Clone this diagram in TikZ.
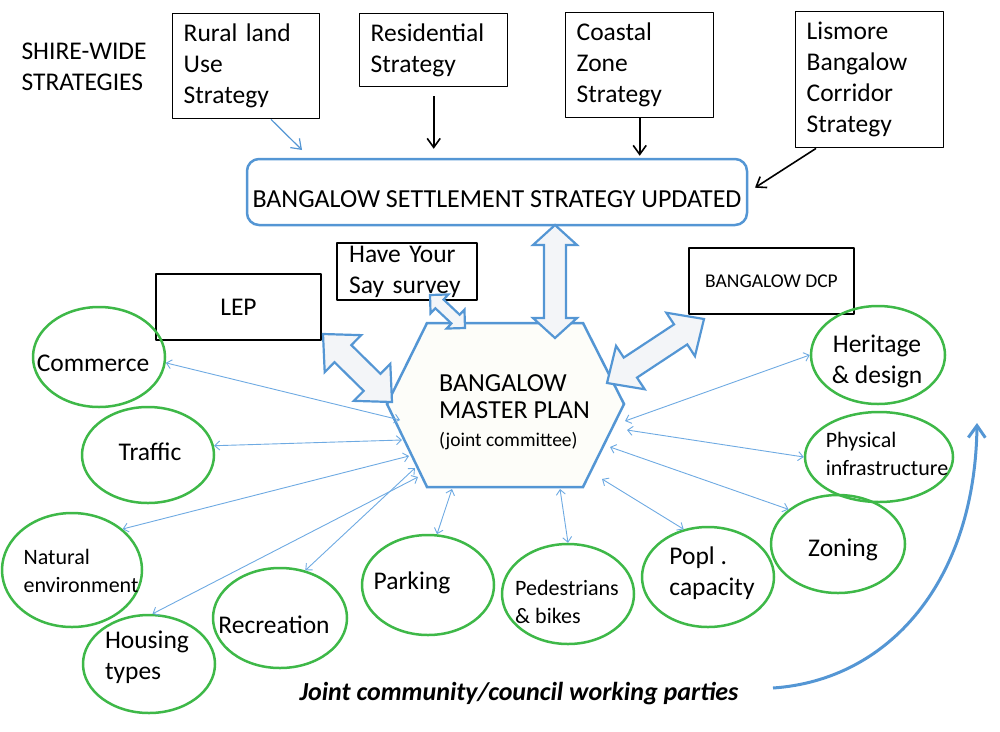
\documentclass[tikz,border=0pt]{standalone}
\usepackage{fontspec}
\setmainfont{Carlito}
\usetikzlibrary{arrows.meta,calc,shapes.geometric}

\definecolor{planblue}{RGB}{84,150,212}
\definecolor{linkblue}{RGB}{110,170,226}
\definecolor{partygreen}{RGB}{62,184,72}
\definecolor{hexfill}{RGB}{253,253,249}
\definecolor{arrowfill}{RGB}{243,245,248}

% fat two-headed arrow: tips #1 and #2, half shaft #3, half head #4, head length #5
\newcommand\fatarrow[5]{%
  \coordinate (fa1) at ($(#1)!#5!(#2)$);
  \coordinate (fa2) at ($(#2)!#5!(#1)$);
  \filldraw[fat] (#1) -- ($(fa1)!#4!90:(#2)$) -- ($(fa1)!#3!90:(#2)$)
    -- ($(fa2)!#3!-90:(#1)$) -- ($(fa2)!#4!-90:(#1)$) -- (#2)
    -- ($(fa2)!#4!90:(#1)$) -- ($(fa2)!#3!90:(#1)$)
    -- ($(fa1)!#3!-90:(#2)$) -- ($(fa1)!#4!-90:(#2)$) -- cycle;}

\begin{document}
\begin{tikzpicture}[x=1pt, y=-1pt, line join=round,
    >={Straight Barb[length=5pt, width=9pt]},
    big/.style={font=\fontsize{25.5}{31}\selectfont},
    small/.style={font=\fontsize{22}{28}\selectfont},
    tiny/.style={font=\fontsize{19.5}{24}\selectfont},
    stratbox/.style={draw, line width=1.4pt, big, align=left, inner xsep=11pt, anchor=north west},
    planbox/.style={draw, line width=2.4pt, inner sep=0pt},
    party/.style={ellipse, draw=partygreen, line width=2.5pt, inner sep=0pt},
    link/.style={<->, linkblue, line width=0.9pt},
    feed/.style={-{Straight Barb[length=9pt, width=13pt]}, line width=1.6pt},
    fat/.style={draw=planblue, fill=arrowfill, line width=2.2pt, line join=miter}]

    \useasboundingbox (0,0) rectangle (1000,731);

    % shire-wide strategies
    \node[big, align=left, anchor=west] (shire) at (18,67) {SHIRE-WIDE\\STRATEGIES};
    \node[stratbox, text width=125pt, minimum height=105pt] (rural) at (172,13) {Rural land\\Use\\Strategy};
    \node[stratbox, text width=126pt, minimum height=73pt] (resid) at (359,13) {Residential\\Strategy};
    \node[stratbox, text width=126pt, minimum height=105pt] (coastal) at (565,12) {Coastal\\Zone\\Strategy};
    \node[stratbox, text width=126pt, minimum height=136pt] (lismore) at (795,11) {Lismore\\Bangalow\\Corridor\\Strategy};

    \node[font=\fontsize{26}{31}\selectfont, draw=planblue, line width=2.5pt, rounded corners=12pt,
          text height=31pt, text depth=0pt, inner ysep=0pt,
          minimum width=500pt, minimum height=66pt] (settle) at (497,192)
          {BANGALOW SETTLEMENT STRATEGY UPDATED};

    \coordinate (ruraltip) at (302,150);
    \draw[feed, planblue, line width=1.2pt] (rural.-65) -- (ruraltip);
    \draw[feed, shorten <=9pt, shorten >=9pt] (resid.south) -- (resid.south |- settle.north);
    \draw[feed, shorten >=2pt] (coastal.south) -- (coastal.south |- settle.north);
    \draw[feed, shorten >=8pt] (lismore.-128) -- (settle.east);

    % master plan hexagon
    \coordinate (hexL) at (387,404);
    \coordinate (hexTL) at (427,323);
    \coordinate (hexTR) at (583,323);
    \coordinate (hexR) at (624,404);
    \coordinate (hexBR) at (583,487);
    \coordinate (hexBL) at (427,487);
    \filldraw[draw=planblue, fill=hexfill, line width=2.5pt, line join=miter]
        (hexL) -- (hexTL) -- (hexTR) -- (hexR) -- (hexBR) -- (hexBL) -- cycle;
    \node[font=\fontsize{26}{27}\selectfont, align=left, anchor=west, inner sep=0pt] (master) at (439,412)
        {BANGALOW\\MASTER PLAN\\[1pt]{\fontsize{19.5}{24}\selectfont (joint committee)}};

    % other plans
    \node[planbox, big, minimum width=165pt, minimum height=66pt] (lep) at (238.5,307) {LEP};
    \node[planbox, big, align=left, anchor=north west, inner xsep=12pt,
          text width=116pt, minimum height=57pt] (survey) at (336,242) {Have Your\\Say survey};
    \node[planbox, tiny, minimum width=165pt, minimum height=66pt] (dcp) at (771.5,281) {BANGALOW DCP};

    % fat arrows
    \coordinate (upA) at (555,225);
    \coordinate (upB) at (555,338);
    \fatarrow{upA}{upB}{11pt}{22pt}{20pt}
    \coordinate (lepA) at (323,334);
    \coordinate (lepB) at (392,402);
    \fatarrow{lepA}{lepB}{12pt}{26pt}{28pt}
    \coordinate (hysA) at (430,295);
    \coordinate (hysB) at (465,328);
    \fatarrow{hysA}{hysB}{6pt}{13pt}{13pt}
    \coordinate (dcpA) at (607,383);
    \coordinate (dcpB) at (704,319);
    \fatarrow{dcpA}{dcpB}{12pt}{26pt}{28pt}

    % working parties
    \node[party, minimum width=132pt, minimum height=100pt,
          label={[big, xshift=-6pt, yshift=-6pt]center:Commerce}] (commerce) at (99,357) {};
    \node[party, minimum width=132pt, minimum height=96pt,
          label={[big, xshift=2pt, yshift=3pt]center:Traffic}] (traffic) at (148,455) {};
    \node[party, minimum width=140pt, minimum height=114pt,
          label={[small, align=left, xshift=9pt, yshift=-1pt]center:Natural\\environment}] (natural) at (72,570) {};
    \node[party, minimum width=132pt, minimum height=98pt,
          label={[big, align=left, xshift=-2pt, yshift=7pt]center:Housing\\types}] (housing) at (149,664) {};
    \node[party, minimum width=134pt, minimum height=100pt,
          label={[big, xshift=-6pt, yshift=-7pt]center:Recreation}] (recreation) at (280,618) {};
    \node[party, minimum width=132pt, minimum height=100pt,
          label={[big, xshift=-16pt, yshift=2pt]center:Parking}] (parking) at (428,585) {};
    \node[party, minimum width=132pt, minimum height=100pt,
          label={[small, align=left, xshift=-1pt, yshift=-8pt]center:Pedestrians\\\& bikes}] (peds) at (568,594) {};
    \node[party, minimum width=132pt, minimum height=100pt,
          label={[big, align=left, xshift=4pt, yshift=4pt]center:Popl .\\capacity}] (popl) at (708,577) {};
    \node[party, minimum width=134pt, minimum height=98pt,
          label={[big, xshift=5pt, yshift=-6pt]center:Zoning}] (zoning) at (838,544) {};
    \node[party, minimum width=148pt, minimum height=90pt,
          label={[small, align=left, xshift=8pt, yshift=3pt]center:Physical\\infrastructure}] (physical) at (879,457) {};
    \node[party, minimum width=134pt, minimum height=98pt,
          label={[big, align=center, xshift=-1pt, yshift=-6pt]center:Heritage\\\& design}] (heritage) at (878,355) {};

    % links to the master plan
    \coordinate (t-commerce) at (400,420);
    \coordinate (t-traffic) at (402,440);
    \coordinate (t-natural) at (409,456);
    \coordinate (t-recreation) at (415,468);
    \coordinate (t-housing) at (418,477);
    \coordinate (t-parking) at (452,489);
    \coordinate (t-peds) at (560,489);
    \coordinate (t-popl) at (602,479);
    \coordinate (t-zoning) at (610,447);
    \coordinate (t-physical) at (627,430);
    \coordinate (t-heritage) at (625,421);
    \foreach \p/\a in {commerce/-5, traffic/8, natural/39, housing/86, recreation/62,
                       parking/80, peds/90, popl/117, zoning/145, physical/180, heritage/180}
        \draw[link] (\p.\a) -- (t-\p);

    \node[font=\fontsize{26}{30}\selectfont\bfseries\itshape] (joint) at (519,694)
        {Joint community/council working parties};
    \coordinate (wpStart) at (773,688);
    \coordinate (wpEnd) at (977,423);
    \draw[planblue, line width=3pt, -{Straight Barb[length=12pt, width=17pt]}]
        (wpStart) .. controls (890,680) and (975,580) .. (wpEnd);
\end{tikzpicture}
\end{document}
